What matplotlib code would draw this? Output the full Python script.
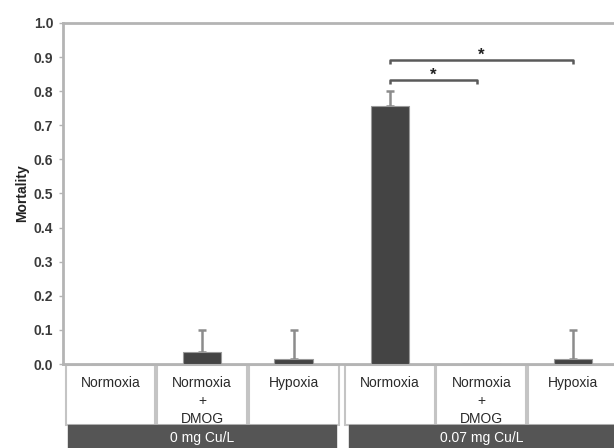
import matplotlib.pyplot as plt
from matplotlib.patches import Rectangle
from matplotlib.transforms import blended_transform_factory

plt.rcParams['font.family'] = ['Liberation Sans', 'DejaVu Sans']

labels = ["Normoxia", "Normoxia\n+\nDMOG", "Hypoxia", "Normoxia", "Normoxia\n+\nDMOG", "Hypoxia"]
mortality = [0.0, 0.035, 0.015, 0.757, 0.0, 0.015]
err_upper = [0.0, 0.065, 0.085, 0.043, 0.0, 0.085]
groups = ["0 mg Cu/L", "0.07 mg Cu/L"]
pos = [0, 1, 2, 3.05, 4.05, 5.05]

fig = plt.figure(figsize=(6.14, 4.48), dpi=100)
ax = fig.add_axes([63 / 614, 84 / 448, 551 / 614, 341 / 448])

spine_c = "#b4b4b4"
bar_c = "#444444"

ax.bar(pos, mortality, width=0.42, color=bar_c, edgecolor="#9a9a9a", linewidth=0.8, zorder=3)
for x, m, e in zip(pos, mortality, err_upper):
    if e > 0:
        ax.errorbar(x, m, yerr=[[0], [e]], fmt="none", ecolor="#8c8c8c",
                    elinewidth=1.8, capsize=3, capthick=1.8, zorder=2)

ax.set_xlim(-0.52, 5.5)
ax.set_ylim(0, 1.0)
ax.set_yticks([i / 10 for i in range(11)])
ax.set_yticklabels([f"{i / 10:.1f}" for i in range(11)], fontsize=10,
                   fontweight="bold", color="#3a3a3a")
ax.set_xticks([])
ax.tick_params(axis="y", length=3, width=1, color=spine_c, direction="out", pad=4)
for s in ["left", "top", "bottom"]:
    ax.spines[s].set_color(spine_c)
    ax.spines[s].set_linewidth(2)
ax.spines["right"].set_visible(False)
ax.set_ylabel("Mortality", fontsize=10, fontweight="bold", color="#222222", labelpad=3)

# significance brackets
def bracket(x1, x2, y, ystar):
    d = 0.012
    ax.plot([x1, x1, x2, x2], [y - d, y, y, y - d], color="#5a5a5a", lw=1.8,
            solid_capstyle="butt", zorder=4)
    ax.text((x1 + x2) / 2, ystar, "*", ha="center", va="center", fontsize=12,
            fontweight="bold", color="#222222")

bracket(pos[3], pos[4] - 0.05, 0.833, 0.847)
bracket(pos[3], pos[5], 0.891, 0.905)

# category boxes and group bars under the axis
tr = blended_transform_factory(ax.transData, ax.transAxes)
for x, lab in zip(pos, labels):
    ax.add_patch(Rectangle((x - 0.49, -0.179), 0.98, 0.176, transform=tr,
                           facecolor="white", edgecolor="#c4c4c4", lw=1.5, clip_on=False))
    ax.text(x, -0.034, lab, transform=tr, ha="center", va="top", fontsize=10,
            color="#2a2a2a", linespacing=1.38, clip_on=False)

for (x0, x1), g in zip([(-0.46, 2.46), (2.6, 5.5)], groups):
    ax.add_patch(Rectangle((x0, -0.25), x1 - x0, 0.071, transform=tr,
                           facecolor="#555555", edgecolor="#555555", clip_on=False))
    ax.text((x0 + x1) / 2, -0.217, g, transform=tr, ha="center", va="center",
            fontsize=10, color="white", clip_on=False)

fig.savefig("out.png", dpi=100)
